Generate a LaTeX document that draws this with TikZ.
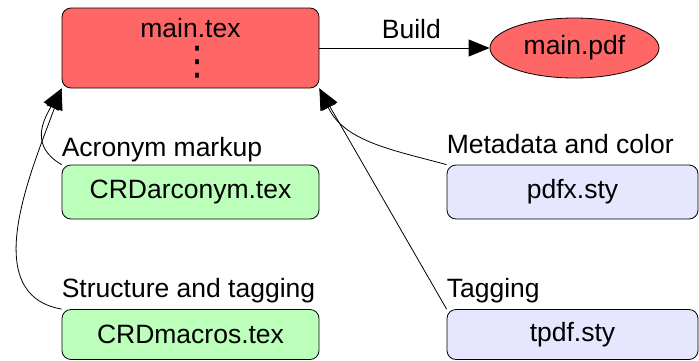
\documentclass[tikz,border=0pt]{standalone}
\usepackage{fontspec}
\usepackage{graphicx}
\setmainfont{Liberation Sans}
\newfontfamily\dejavu{DejaVu Sans}
\usetikzlibrary{arrows.meta,shapes.geometric}
\definecolor{boxred}{RGB}{255,102,102}
\definecolor{boxgreen}{RGB}{187,255,187}
\definecolor{boxblue}{RGB}{230,230,255}
\begin{document}
\begin{tikzpicture}[x=1pt,y=1pt,
  font=\fontsize{26.5}{31.8}\selectfont,
  filebox/.style={draw, rounded corners=9pt, line width=0.8pt, minimum width=257pt, minimum height=54pt, inner sep=0pt},
  arr/.style={-{Triangle[length=21pt,width=17pt]}, line width=0.8pt},
  lbl/.style={anchor=base west, inner sep=0pt}]
\useasboundingbox (0,0) rectangle (699,-360);
\node[filebox, fill=boxred, minimum height=80pt, align=center, text height=52pt, text depth=0pt] (main) at (190.5,-48) {main.tex\\[5.2pt]\hspace*{13pt}\raisebox{0pt}[20pt][0pt]{\scalebox{1}[1.1]{\dejavu\fontsize{36}{36}\selectfont ⋮}}};
\node[draw, ellipse, fill=boxred, minimum width=169pt, minimum height=60pt, inner sep=0pt, line width=0.8pt] (pdf) at (574.5,-48) {main.pdf};
\node[filebox, fill=boxgreen] (acr) at (190.5,-192) {CRDarconym.tex};
\node[filebox, fill=boxgreen, minimum height=50pt] (mac) at (190.5,-334.5) {CRDmacros.tex};
\node[filebox, fill=boxblue, minimum width=251pt] (pdfx) at (572.5,-192) {pdfx.sty};
\node[filebox, fill=boxblue, minimum width=251pt, minimum height=50pt] (tpdf) at (572.5,-334.5) {tpdf.sty};
\node[lbl] (acrlbl) at ([yshift=8.5pt]acr.north west) {Acronym markup};
\node[lbl] (maclbl) at ([yshift=12pt]mac.north west) {Structure and tagging};
\node[lbl] (pdfxlbl) at ([yshift=11.5pt]pdfx.north west) {Metadata and color};
\node[lbl] (tpdflbl) at ([yshift=12pt]tpdf.north west) {Tagging};
\draw[arr] (main.east) -- node[pos=0.54, anchor=base, yshift=10pt, inner sep=0pt] (buildlbl) {Build} (pdf.west);
\draw[arr] (acr.north west) .. controls +(150:37) and +(240:37) .. (main.south west);
\draw[arr] (mac.north west) .. controls +(170:86) and +(250:86) .. (main.south west);
\draw[arr] (pdfx.north west) .. controls +(165:58) and +(295:58) .. (main.south east);
\draw[arr] (tpdf.north west) -- (main.south east);
\end{tikzpicture}
\end{document}
